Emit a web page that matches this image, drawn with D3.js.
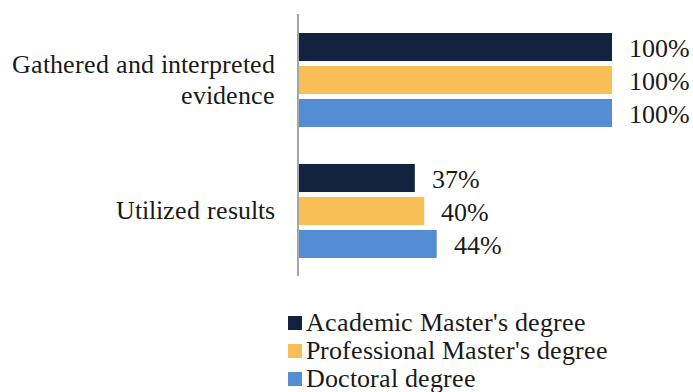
<!DOCTYPE html>
<html>
<head>
<meta charset="utf-8">
<script src="https://d3js.org/d3.v7.min.js"></script>
<style>
  @font-face { font-family: "ChartSerif"; src: local("Liberation Serif"), local("LiberationSerif"), local("Liberation Serif Regular"), local("LiberationSerif-Regular"); }
  body { margin: 0; }
  svg text { font-family: "ChartSerif", "Liberation Serif", Tinos, "Times New Roman", serif; }
</style>
</head>
<body>
<script>
// data
var categories = ["Gathered and interpreted evidence", "Utilized results"];
var series = ["Academic Master's degree", "Professional Master's degree", "Doctoral degree"];
var academic = [100, 37];
var professional = [100, 40];
var doctoral = [100, 44];
var colors = ["#13233f", "#f7bf56", "#548dd4"];

var W = 693, H = 392;
var svg = d3.select("body").append("svg")
  .attr("width", W).attr("height", H);

var x = d3.scaleLinear().domain([0, 100]).range([299, 612]);
var y0 = d3.scaleBand().domain(categories).range([33, 258]).paddingInner(0.282);
var y1 = d3.scaleBand().domain(series).range([0, y0.bandwidth()]).paddingInner(0.15);

var rows = [];
categories.forEach(function(c, i) {
  [academic, professional, doctoral].forEach(function(arr, j) {
    rows.push({cat: c, s: series[j], v: arr[i], col: colors[j]});
  });
});

svg.selectAll("rect.bar").data(rows).enter().append("rect")
  .attr("class", "bar")
  .attr("x", x(0))
  .attr("y", function(d) { return y0(d.cat) + y1(d.s); })
  .attr("width", function(d) { return x(d.v) - x(0); })
  .attr("height", y1.bandwidth())
  .attr("fill", function(d) { return d.col; });

svg.selectAll("text.val").data(rows).enter().append("text")
  .attr("class", "val")
  .attr("x", function(d) { return x(d.v) + 17; })
  .attr("y", function(d) { return y0(d.cat) + y1(d.s) + y1.bandwidth() / 2 + 10; })
  .attr("fill", "#1a1a1a")
  .style("font-size", "26px")
  .text(function(d) { return d.v + "%"; });

// axis line
svg.append("line")
  .attr("x1", 298).attr("x2", 298)
  .attr("y1", 14).attr("y2", 276)
  .attr("stroke", "#888").attr("stroke-width", 1.5);

// category labels
var catLines = [["Gathered and interpreted", "evidence"], ["Utilized results"]];
categories.forEach(function(c, i) {
  var lines = catLines[i];
  var cy = y0(c) + y0.bandwidth() / 2;
  var lh = 31;
  lines.forEach(function(l, k) {
    svg.append("text")
      .attr("text-anchor", "end")
      .attr("x", 275)
      .attr("y", cy + (k - (lines.length - 1) / 2) * lh + 8)
      .attr("fill", "#1a1a1a")
      .style("font-size", "26px")
      .text(l);
  });
});

// legend
var leg = svg.selectAll("g.leg").data(series).enter().append("g")
  .attr("class", "leg")
  .attr("transform", function(d, i) { return "translate(288," + (323 + i * 28) + ")"; });
leg.append("rect")
  .attr("x", 0).attr("y", -7)
  .attr("width", 14).attr("height", 14)
  .attr("fill", function(d, i) { return colors[i]; });
leg.append("text")
  .attr("x", 18)
  .attr("y", 8)
  .attr("fill", "#1a1a1a")
  .style("font-size", "26px")
  .text(function(d) { return d; });
</script>
</body>
</html>
